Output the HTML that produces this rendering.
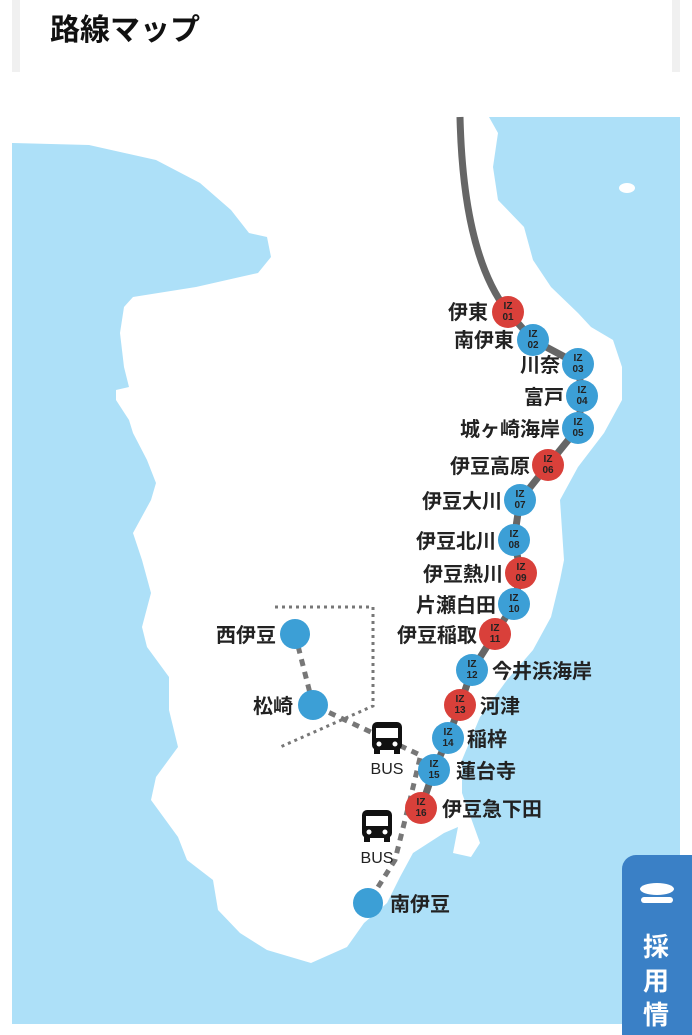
<!DOCTYPE html>
<html><head><meta charset="utf-8"><style>
html,body{margin:0;padding:0;background:#fff;width:692px;height:1024px;overflow:hidden;font-family:"Liberation Sans","Noto Sans CJK JP",sans-serif}
.card{position:absolute;left:12px;top:0;width:668px;height:72px;background:#fff;border-left:8px solid #f0f0f0;border-right:8px solid #f0f0f0;box-sizing:border-box}
.card h1{position:absolute;left:30px;top:5px;margin:0;font-size:30px;font-weight:bold;color:#111;font-family:"Noto Sans CJK JP",sans-serif;line-height:44px}
svg{position:absolute;left:0;top:0}
.tab{position:absolute;left:622px;top:855px;width:80px;height:180px;background:#3a80c6;border-radius:14px 0 0 0;color:#fff;font-weight:bold;font-size:26px;font-family:"Noto Sans CJK JP",sans-serif}
.tab span{position:absolute;left:21px}
</style></head><body>
<div class="card"><h1>路線マップ</h1></div>
<svg width="692" height="1024" viewBox="0 0 692 1024">
<rect x="12" y="117" width="668" height="907" fill="#ade0f8"/>
<polygon fill="#fff" points="12,117 489,117 498,133 493,167 498,200 524,227 533,260 551,287 578,313 591,327 613,340 622,367 622,400 604,433 578,467 560,500 564,560 560,580 551,617 533,650 507,680 480,717 462,760 462,793 480,843 471,857 453,853 458,827 444,833 413,853 400,877 387,903 364,923 347,947 311,963 267,950 240,933 218,910 213,880 187,860 178,837 151,800 156,777 178,747 169,710 169,677 147,647 142,627 151,593 142,560 133,533 151,500 156,483 147,460 133,433 129,420 116,400 116,390 129,387 124,367 120,333 124,307 133,297 196,287 240,277 258,273 271,257 267,237 249,233 231,210 200,183 156,160 89,145 13,143 12,143"/>
<ellipse cx="627" cy="188" rx="8" ry="5" fill="#fff"/>
<polyline points="275,607 373,607 373,706 278,748" fill="none" stroke="#777" stroke-width="3" stroke-dasharray="3,4"/>
<polyline points="295,634 313,705 420,755" fill="none" stroke="#777" stroke-width="5" stroke-dasharray="7,6"/>
<polyline points="420,758 410,800 395,860 368,903" fill="none" stroke="#777" stroke-width="5" stroke-dasharray="7,6"/>
<path d="M460,117 C462,200 475,270 508,312 L533,340 L578,364 L582,396 L578,428 L548,465 L520,500 L514,540 L521,573 L514,604 L495,634 L472,670 L460,705 L448,738 L434,770 L421,808" fill="none" stroke="#666" stroke-width="7" stroke-linejoin="round"/>
<g font-family="Liberation Sans,sans-serif" font-weight="bold" font-size="10" text-anchor="middle" fill="#222">
<circle cx="508" cy="312" r="16" fill="#d9403a"/><text x="508" y="309">IZ</text><text x="508" y="320">01</text>
<circle cx="533" cy="340" r="16" fill="#3c9fd6"/><text x="533" y="337">IZ</text><text x="533" y="348">02</text>
<circle cx="578" cy="364" r="16" fill="#3c9fd6"/><text x="578" y="361">IZ</text><text x="578" y="372">03</text>
<circle cx="582" cy="396" r="16" fill="#3c9fd6"/><text x="582" y="393">IZ</text><text x="582" y="404">04</text>
<circle cx="578" cy="428" r="16" fill="#3c9fd6"/><text x="578" y="425">IZ</text><text x="578" y="436">05</text>
<circle cx="548" cy="465" r="16" fill="#d9403a"/><text x="548" y="462">IZ</text><text x="548" y="473">06</text>
<circle cx="520" cy="500" r="16" fill="#3c9fd6"/><text x="520" y="497">IZ</text><text x="520" y="508">07</text>
<circle cx="514" cy="540" r="16" fill="#3c9fd6"/><text x="514" y="537">IZ</text><text x="514" y="548">08</text>
<circle cx="521" cy="573" r="16" fill="#d9403a"/><text x="521" y="570">IZ</text><text x="521" y="581">09</text>
<circle cx="514" cy="604" r="16" fill="#3c9fd6"/><text x="514" y="601">IZ</text><text x="514" y="612">10</text>
<circle cx="495" cy="634" r="16" fill="#d9403a"/><text x="495" y="631">IZ</text><text x="495" y="642">11</text>
<circle cx="472" cy="670" r="16" fill="#3c9fd6"/><text x="472" y="667">IZ</text><text x="472" y="678">12</text>
<circle cx="460" cy="705" r="16" fill="#d9403a"/><text x="460" y="702">IZ</text><text x="460" y="713">13</text>
<circle cx="448" cy="738" r="16" fill="#3c9fd6"/><text x="448" y="735">IZ</text><text x="448" y="746">14</text>
<circle cx="434" cy="770" r="16" fill="#3c9fd6"/><text x="434" y="767">IZ</text><text x="434" y="778">15</text>
<circle cx="421" cy="808" r="16" fill="#d9403a"/><text x="421" y="805">IZ</text><text x="421" y="816">16</text>
</g>
<circle cx="295" cy="634" r="15" fill="#3c9fd6"/>
<circle cx="313" cy="705" r="15" fill="#3c9fd6"/>
<circle cx="368" cy="903" r="15" fill="#3c9fd6"/>
<g fill="#111">
<rect x="372" y="722" width="30" height="28" rx="5"/><rect x="376" y="728" width="22" height="10" fill="#fff"/><circle cx="379" cy="744" r="2.5" fill="#fff"/><circle cx="395" cy="744" r="2.5" fill="#fff"/><rect x="374" y="749" width="6" height="5"/><rect x="394" y="749" width="6" height="5"/>
<rect x="362" y="810" width="30" height="28" rx="5"/><rect x="366" y="816" width="22" height="10" fill="#fff"/><circle cx="369" cy="832" r="2.5" fill="#fff"/><circle cx="385" cy="832" r="2.5" fill="#fff"/><rect x="364" y="837" width="6" height="5"/><rect x="384" y="837" width="6" height="5"/>
</g>
<g font-family="Liberation Sans,sans-serif" font-size="16" fill="#222" text-anchor="middle">
<text x="387" y="774">BUS</text><text x="377" y="863">BUS</text>
</g>
<g font-family="Noto Sans CJK JP,sans-serif" font-weight="bold" font-size="20" fill="#222" text-anchor="end">
<text x="488" y="319">伊東</text>
<text x="514" y="347">南伊東</text>
<text x="560" y="372">川奈</text>
<text x="564" y="404">富戸</text>
<text x="560" y="436">城ヶ崎海岸</text>
<text x="530" y="473">伊豆高原</text>
<text x="502" y="508">伊豆大川</text>
<text x="496" y="548">伊豆北川</text>
<text x="503" y="581">伊豆熱川</text>
<text x="496" y="612">片瀬白田</text>
<text x="477" y="642">伊豆稲取</text>
<text x="276" y="642">西伊豆</text>
<text x="293" y="713">松崎</text>
</g>
<g font-family="Noto Sans CJK JP,sans-serif" font-weight="bold" font-size="20" fill="#222">
<text x="492" y="678">今井浜海岸</text>
<text x="480" y="713">河津</text>
<text x="467" y="746">稲梓</text>
<text x="456" y="778">蓮台寺</text>
<text x="442" y="816">伊豆急下田</text>
<text x="390" y="911">南伊豆</text>
</g>
</svg>
<div class="tab">
<svg width="70" height="40" style="left:0;top:20px"><ellipse cx="35" cy="14" rx="17" ry="6" fill="#fff"/><rect x="19" y="22" width="32" height="6" rx="3" fill="#fff"/></svg>
<span style="top:72px">採</span><span style="top:106px">用</span><span style="top:140px">情</span>
</div>
</body></html>
